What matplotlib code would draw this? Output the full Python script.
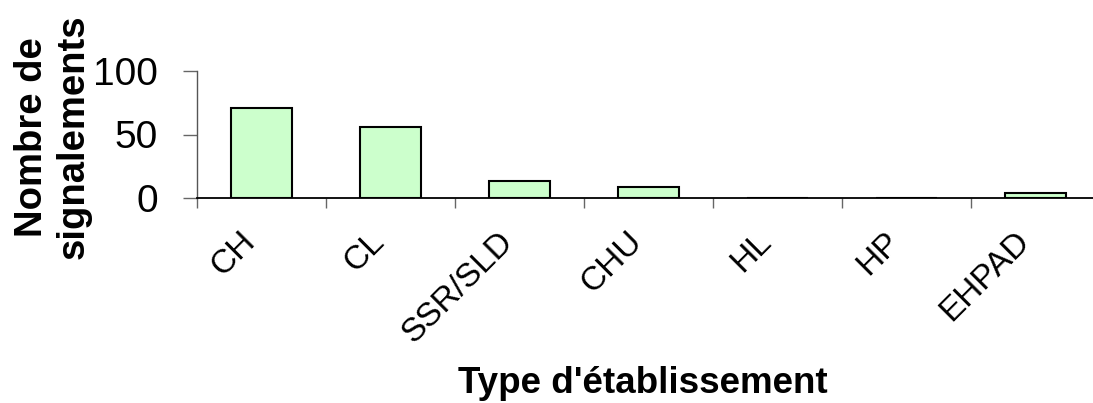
import matplotlib
matplotlib.use('Agg')
import matplotlib.pyplot as plt
from matplotlib.transforms import ScaledTranslation

plt.rcParams['font.family'] = ['Liberation Sans', 'DejaVu Sans']

categories = ["CH", "CL", "SSR/SLD", "CHU", "HL", "HP", "EHPAD"]
signalements = [71, 56, 13, 9, 0, 0, 4]

W, H = 1093, 403
fig = plt.figure(figsize=(W / 100, H / 100), dpi=100)
# axes runs a little past the right edge, as in the original
ax = fig.add_axes([197 / W, 205 / H, 903 / W, 127 / H])

x = [i + 0.5 for i in range(len(categories))]
ax.bar(x, signalements, width=0.48, color="#CCFFCC",
       edgecolor="black", linewidth=1.5, zorder=2)

ax.set_xlim(0, len(categories))
ax.set_ylim(0, 100)

# remove chartjunk
ax.spines["top"].set_visible(False)
ax.spines["right"].set_visible(False)
ax.spines["left"].set_color("#555555")
ax.spines["left"].set_linewidth(1.0)
ax.spines["bottom"].set_color("black")
ax.spines["bottom"].set_linewidth(1.3)
ax.spines["bottom"].set_zorder(3)

ax.set_yticks([0, 50, 100])
ax.tick_params(axis="y", direction="out", length=10, width=1,
               color="#666666", labelsize=28, pad=18)

# category boundaries as major ticks, names on minor ticks
ax.set_xticks(range(len(categories) + 1))
ax.set_xticklabels([])
ax.set_xticks(x, minor=True)
ax.set_xticklabels(categories, minor=True, rotation=45,
                   ha="right", va="top", rotation_mode="anchor")
ax.tick_params(axis="x", which="major", direction="out", length=7.2,
               width=1, color="#666666")
ax.tick_params(axis="x", which="minor", length=0, labelsize=24, pad=20)
for lab in ax.get_xticklabels(minor=True):
    lab.set_transform(lab.get_transform() +
                      ScaledTranslation(-0.22, 0, fig.dpi_scale_trans))

fig.text(53 / W, 1 - 137 / H, "Nombre de\nsignalements", rotation=90,
         ha="center", va="center", fontsize=27.5, fontweight="bold",
         linespacing=1.2)
fig.text(643 / W, 1 - 393 / H, "Type d'établissement", ha="center",
         va="baseline", fontsize=26.5, fontweight="bold")

plt.savefig("out.png", dpi=100)
